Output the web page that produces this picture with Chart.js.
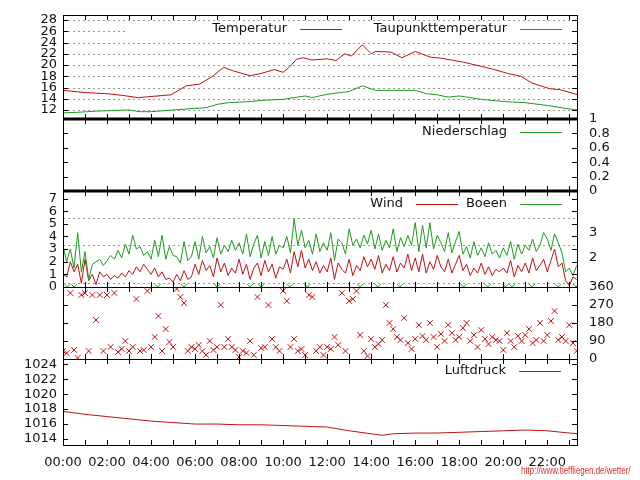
<!DOCTYPE html>
<html><head><meta charset="utf-8">
<script src="https://cdn.jsdelivr.net/npm/chart.js@4"></script>
<style>
body{margin:0;background:#fff;width:640px;height:480px;overflow:hidden;position:relative}
canvas{position:absolute;left:0;top:0}
#url{position:absolute;left:521px;top:464px;font:11px "Liberation Sans",sans-serif;color:#e03030;white-space:nowrap;transform:scaleX(0.72);transform-origin:0 0}
</style></head><body>
<canvas id="c1" width="640" height="480"></canvas>
<canvas id="c2" width="640" height="480"></canvas>
<canvas id="c3" width="640" height="480"></canvas>
<canvas id="c4" width="640" height="480"></canvas>
<canvas id="c5" width="640" height="480"></canvas>
<div id="url">http://www.tieffliegen.de/wetter/</div>
<script>
// ---- data ----
const xTickLabels = ['00:00','02:00','04:00','06:00','08:00','10:00','12:00','14:00','16:00','18:00','20:00','22:00'];
const tempH = [0,1,2,2.7,3.4,4.9,5.6,6.2,6.8,7.3,7.7,8.5,9.0,9.6,10.0,10.3,10.6,10.9,11.3,12.0,12.4,12.8,13.1,13.6,14.0,14.2,14.9,15.4,16.0,16.7,17.2,18.2,19.5,20.2,20.8,21.3,22.1,22.6,23.4];
const tempV = [15.5,15.1,14.9,14.6,14.2,14.7,16.3,16.6,18.0,19.6,19.0,18.1,18.5,19.2,18.7,19.7,21.0,21.3,20.9,21.1,20.8,22.0,21.6,23.6,22.0,22.4,22.3,21.3,22.4,21.4,21.2,20.5,19.3,18.5,18.0,16.8,15.8,15.6,14.7];
const dewH = [0,0.7,1.5,2.3,3,3.5,4,5,6,6.5,7,7.5,8.5,9,10,11,11.3,12,13,13.6,14.2,15,16,16.5,17,17.5,18,19,20,21,22,22.8,23.4];
const dewV = [11.5,11.6,11.8,11.9,12.0,11.7,11.7,12.0,12.3,12.4,13.0,13.3,13.5,13.7,13.9,14.5,14.2,14.8,15.3,16.3,15.5,15.5,15.5,14.9,14.7,14.3,14.5,13.9,13.5,13.3,12.8,12.3,12.0];
const windV = [1,0.8,2,1.2,1.8,0.3,2.2,0.5,1,0.2,1.2,0.8, 1,0.6,0.9,0.7,1.1,0.8,1.3,1,1.6,1.2,1.8,1.4, 1,1.5,0.8,1.2,0.6,0.7,0.4,1,0.5,1.3,0.6,0.8, 1.8,1,2.1,1.3,1.7,0.8,2.3,1.2,1.9,0.9,1.5,1.1, 2.2,1,1.8,0.6,1.5,1.9,0.9,2.1,1.2,1.8,0.7,1.6, 1.4,2.2,1.1,2.8,1.6,2.9,1.5,2.2,1.3,2,1.1,1.7, 1.2,2.3,0.6,1.9,1.4,1.1,2.2,0.9,1.7,1.3,2.4,1.6, 2.2,1.4,2.5,1.1,1.8,1.3,2.4,1.2,1.9,1.5,2.6,1.3, 2.3,1.2,2.6,1.1,2,1.4,2.5,1.6,1.2,2.2,1.1,1.8, 2.5,1.3,1.8,0.9,1.5,1.1,1.9,1,1.6,0.9,1.4,1.2, 1.5,1.1,2.1,0.8,1.7,1.2,1.9,1.1,2.3,1.3,1.7,2.2, 1.2,2.1,3,1.6,1.9,0.5,0.1,0.8,0.6];
const gustV = [3.3,2,3,1.5,4.3,1.2,2.8,0.6,1.8,2,2.2,1.7, 2.1,2.5,2.2,2.9,2.3,3.4,2.6,4.1,3,3.2,2.5,2.8, 2.2,3.7,2.4,4.1,2.2,3.2,2.5,2.4,1.9,3.6,2.1,2.4, 3.6,2.2,4,2.7,3.2,2.3,3.9,2.6,3.3,2.8,3.7,2.9, 3.5,2.6,4.2,2.4,3.4,4.1,2.3,3.6,2.5,4,2.6,3.3, 3.1,4,2.7,5.4,3.3,4.5,3.1,3.7,2.6,4.2,2.8,3.5, 2.9,4.3,2.1,3.8,3.5,2.6,4.6,3.3,3.8,3.1,4.1,3.4, 4.5,3,4.2,2.9,3.7,3.1,4.6,2.8,3.9,3.2,4.1,3.3, 5.1,2.8,4.9,3.1,5.1,3,4.1,3.5,2.8,4.3,2.7,3.6, 4.4,2.6,3.2,2.3,3.6,2.5,3.1,2.4,3.5,2.6,2.9,2.3, 3.1,2.5,3.6,2.2,3.4,2.6,3.3,2.9,3.8,2.8,3.3,4.3, 3.8,2.9,4.2,3.5,2.7,1.2,1.5,0.9,1.7];
const calmH = [0.2,0.5,4.3,5.5,7,8.5,9,10.3,11.1,13.5,14.3,15.3,18.2,19.3,20.1,20.4,21.3,22.5,23.3];
const dirV = [40,30,330,45,5,320,330,40,320,195,320,40, 320,60,330,35,50,90,40,60,300,40,45,340, 60,110,215,40,150,85,60,350,310,280,40,60, 50,70,40,20,90,45,60,270,60,100,60,45, 10,40,30,90,20,310,55,60,270,100,60,40, 340,290,60,100,40,50,20,320,310,40,60,20, 60,50,110,70,330,40,290,300,340,120,40,15, 100,60,75,95,270,180,150,110,95,205,80,50, 100,170,115,95,180,110,60,125,90,170,130,95, 110,155,180,90,120,60,145,100,75,110,95,90, 45,130,90,60,115,90,120,150,80,95,180,90, 120,190,240,95,110,90,170,80,40];
const presH = [0,1,2,3,4,5,6,7,8,9,10,11,12,13,14,14.5,15,16,17,18,19,20,21,22,23,23.4];
const presV = [1017.7,1017.3,1017.0,1016.7,1016.4,1016.2,1016.0,1016.0,1015.9,1015.9,1015.8,1015.7,1015.6,1015.1,1014.7,1014.5,1014.7,1014.8,1014.8,1014.9,1015.0,1015.1,1015.2,1015.1,1014.8,1014.7];
const rainH = [0,23.4];
const rainV = [0,0];

// ---- helpers ----
const RED='#c01010', GREEN='#1e9a1e';
Chart.defaults.color='#111';
Chart.defaults.animation=false;
const step = 1/6;
const pts = (hs, vs) => hs.map((h,i)=>({x:h,y:vs[i]}));
const tenMin = vs => vs.map((v,i)=>({x:i*step,y:v}));
const XMAX=23.35;

function panelPlugin(opts){
  return {id:'panel',
    beforeDatasetsDraw(ch){
      const c=ch.ctx, a=ch.chartArea;
      if(opts.grid){
        c.save(); c.strokeStyle='#999'; c.lineWidth=1; c.setLineDash([2,3]);
        opts.grid.forEach(v=>{const y=Math.round(ch.scales.y.getPixelForValue(v))+0.5;c.beginPath();c.moveTo(a.left,y);c.lineTo(a.right,y);c.stroke();});
        c.restore();
      }
      if(opts.legendBox){ const b=opts.legendBox; c.fillStyle='#fff'; c.fillRect(b[0],b[1],b[2],b[3]); }
    },
    afterDraw(ch){
      const c=ch.ctx, a=ch.chartArea;
      c.save(); c.strokeStyle='#000'; c.lineWidth=1;
      const xs=ch.scales.x;
      for(let h=0;h<=23;h++){const x=Math.round(xs.getPixelForValue(h))+0.5; const L=5;
        c.beginPath();c.moveTo(x,a.bottom);c.lineTo(x,a.bottom-L);c.moveTo(x,a.top);c.lineTo(x,a.top+L);c.stroke();}
      (opts.yticks||[]).forEach(v=>{const y=Math.round(ch.scales.y.getPixelForValue(v))+0.5;
        c.beginPath();c.moveTo(a.left,y);c.lineTo(a.left+5,y);c.moveTo(a.right,y);c.lineTo(a.right-5,y);c.stroke();});
      c.lineWidth=1; c.strokeRect(a.left+0.5,a.top+0.5,a.right-a.left,a.bottom-a.top);
      if(opts.thickTop){c.lineWidth=3;c.beginPath();c.moveTo(a.left,a.top);c.lineTo(a.right+1,a.top);c.stroke();}
      if(opts.thickBottom){c.lineWidth=3;c.beginPath();c.moveTo(a.left,a.bottom);c.lineTo(a.right+1,a.bottom);c.stroke();}
      c.font='13px "DejaVu Sans"'; c.textBaseline='middle'; c.textAlign='right'; c.fillStyle='#111';
      (opts.legend||[]).forEach(l=>{c.fillText(l.t,l.x,l.y); c.strokeStyle=l.c;c.lineWidth=1;c.beginPath();c.moveTo(l.x+13,l.y+0.5);c.lineTo(l.x+55,l.y+0.5);c.stroke();});
      c.restore();
    }};
}
function xScale(show){
  return {type:'linear',min:0,max:XMAX,display:show,
    grid:{display:false,drawTicks:false},border:{display:false},
    afterBuildTicks:s=>{s.ticks=xTickLabels.map((t,i)=>({value:i*2}));},
    ticks:{padding:10,maxRotation:0,autoSkip:false,font:{family:'DejaVu Sans',size:13},callback:(v,i)=>xTickLabels[i]},
    afterFit:s=>{s.height=show?25:0;}};
}
function yScale(min,max,ticks,pos,show,labels){
  return {type:'linear',min,max,position:pos,display:show,
    grid:{display:false,drawTicks:false},border:{display:false},
    afterBuildTicks:s=>{s.ticks=ticks.map(v=>({value:v}));},
    ticks:{autoSkip:false,padding:pos==='left'?6:12,font:{family:'DejaVu Sans',size:13},callback:(v,i)=>labels?labels[i]:v},
    afterFit:s=>{s.width=show?63:0;}};
}
function make(id,top,bottom,datasets,scales,plug,xshow){
  const padBottom = xshow ? 480-bottom-25 : 480-bottom;
  const hasRight = !!scales.y2;
  const leftShown = scales.y.display;
  return new Chart(document.getElementById(id),{type:'line',data:{datasets},
    options:{responsive:false,animation:false,
      layout:{padding:{top:top,bottom:padBottom,left:leftShown?0:63,right:hasRight?0:63}},
      plugins:{legend:{display:false},tooltip:{enabled:false}},
      elements:{point:{radius:0},line:{borderWidth:1,tension:0}},
      scales:Object.assign({x:xScale(xshow)},scales)},
    plugins:[plug]});
}

// Panel 1: temperature
make('c1',15,119,[
  {data:pts(tempH,tempV),borderColor:RED},
  {data:pts(dewH,dewV),borderColor:GREEN}],
  {y:yScale(10.4,28.9,[12,14,16,18,20,22,24,26,28],'left',true)},
  panelPlugin({grid:[12,14,16,18,20,22,24,26,28],yticks:[12,14,16,18,20,22,24,26,28],legendBox:[125,24,452,12],
    thickBottom:true,legend:[{t:'Temperatur',x:287,y:29,c:RED},{t:'Taupunkttemperatur',x:507,y:29,c:GREEN}]}),false);

// Panel 2: precipitation
make('c2',119,191,[{data:pts(rainH,rainV),borderColor:GREEN}],
  {y:yScale(0,1,[0,0.2,0.4,0.6,0.8,1],'left',false),y2:yScale(0,1,[0,0.2,0.4,0.6,0.8,1],'right',true)},
  panelPlugin({yticks:[0.2,0.4,0.6,0.8],thickBottom:true,legend:[{t:'Niederschlag',x:507,y:132,c:GREEN}]}),false);

// Panel 3: wind
make('c3',191,287,[
  {data:tenMin(gustV),borderColor:GREEN},
  {data:tenMin(windV),borderColor:RED},
  {data:calmH.map(h=>({x:h,y:0})),showLine:false,pointStyle:'crossRot',pointRadius:4,borderColor:GREEN,pointBorderColor:GREEN}],
  {y:yScale(0,7.6,[0,1,2,3,4,5,6,7],'left',true),y2:yScale(0,7.6,[2.3,4.3],'right',true,['2','3'])},
  panelPlugin({grid:[0.35,3.3,5.45],yticks:[1,2,3,4,5,6,7],
    legend:[{t:'Wind',x:403,y:204,c:RED},{t:'Boeen',x:507,y:204,c:GREEN}]}),false);

// Panel 4: direction
make('c4',287,359,[
  {data:tenMin(dirV),showLine:false,pointStyle:'crossRot',pointRadius:4,pointBorderWidth:1,borderColor:RED,pointBorderColor:RED}],
  {y:yScale(0,360,[0,90,180,270,360],'left',false),y2:yScale(0,360,[0,90,180,270,360],'right',true)},
  panelPlugin({yticks:[90,180,270]}),false);

// Panel 5: pressure
make('c5',359,445,[{data:pts(presH,presV),borderColor:RED}],
  {y:yScale(1013.2,1024.7,[1014,1016,1018,1020,1022,1024],'left',true)},
  panelPlugin({yticks:[1014,1016,1018,1020,1022,1024],legend:[{t:'Luftdruck',x:506,y:371,c:RED}]}),true);
</script></body></html>
